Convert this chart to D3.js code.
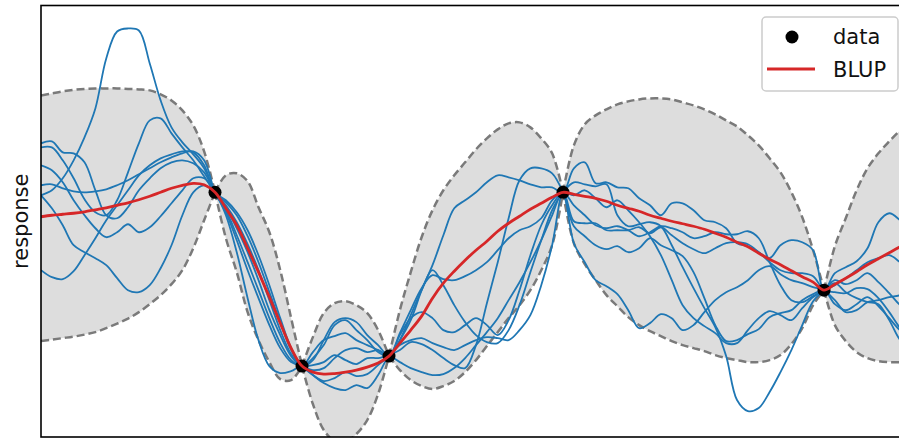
<!DOCTYPE html>
<html><head><meta charset="utf-8">
<script src="https://cdn.jsdelivr.net/npm/d3@7"></script>
<style>
html,body{margin:0;padding:0;background:#fff;}
svg{display:block;font-family:"DejaVu Sans",sans-serif;}
</style></head>
<body><svg id="chart" width="899" height="438"></svg>
<script>
// ---------- data ----------
const xGrid = d3.range(81).map(i => i / 8);   // sampling grid 0 .. 10
const dataX = [2, 3, 4, 6, 9];
const dataY = [0.29, -1.45, -1.35, 0.29, -0.69];

const blup = [0.045,0.06,0.07,0.08,0.095,0.115,0.135,0.16,0.185,0.215,0.25,0.29,0.33,0.36,0.38,0.365,0.29,
  0.13,-0.04,-0.27,-0.51,-0.76,-1.02,-1.27,-1.45,
  -1.51,-1.53,-1.525,-1.51,-1.49,-1.46,-1.42,-1.35,
  -1.22,-1.09,-0.95,-0.77,-0.62,-0.50,-0.39,-0.29,-0.20,-0.10,-0.02,0.05,0.12,0.18,0.24,0.29,
  0.27,0.25,0.23,0.20,0.16,0.13,0.10,0.06,0.03,0.00,-0.025,-0.05,-0.08,-0.12,-0.16,-0.21,-0.255,-0.32,-0.38,-0.435,-0.495,-0.555,-0.61,-0.69,
  -0.63,-0.57,-0.505,-0.435,-0.375,-0.315,-0.255,-0.20];

const upper = [1.26,1.28,1.30,1.315,1.325,1.33,1.33,1.33,1.325,1.32,1.31,1.27,1.21,1.11,0.96,0.70,0.29,
  0.46,0.48,0.40,0.14,-0.11,-0.49,-0.97,-1.45,
  -1.16,-0.92,-0.82,-0.80,-0.84,-0.92,-1.09,-1.35,
  -0.89,-0.51,-0.16,0.11,0.31,0.46,0.59,0.72,0.83,0.92,0.98,0.99,0.94,0.83,0.68,0.29,
  0.76,0.97,1.06,1.12,1.17,1.20,1.22,1.23,1.23,1.22,1.19,1.16,1.12,1.07,1.01,0.95,0.86,0.76,0.63,0.49,0.29,0.04,-0.29,-0.69,
  -0.25,0.03,0.31,0.53,0.68,0.80,0.91,1.00];

const lower = [-1.20,-1.185,-1.17,-1.155,-1.135,-1.11,-1.07,-1.025,-0.975,-0.91,-0.83,-0.74,-0.63,-0.49,-0.27,0.01,0.29,
  -0.17,-0.51,-0.91,-1.19,-1.41,-1.58,-1.59,-1.45,
  -1.83,-2.09,-2.20,-2.21,-2.13,-1.99,-1.73,-1.35,
  -1.49,-1.59,-1.65,-1.68,-1.65,-1.60,-1.51,-1.39,-1.25,-1.11,-0.97,-0.84,-0.69,-0.49,-0.24,0.29,
  -0.22,-0.43,-0.59,-0.74,-0.85,-0.96,-1.04,-1.10,-1.15,-1.20,-1.24,-1.27,-1.30,-1.34,-1.37,-1.39,-1.41,-1.41,-1.39,-1.34,-1.23,-1.07,-0.84,-0.69,
  -1.04,-1.20,-1.31,-1.37,-1.40,-1.41,-1.41,-1.40];

const sample1 = [0.26,0.31,0.43,0.61,0.84,1.13,1.63,1.90,1.93,1.91,1.58,1.21,0.94,0.79,0.67,0.53,0.29,
  0.11,-0.14,-0.41,-0.69,-0.97,-1.22,-1.39,-1.45,
  -1.31,-1.19,-1.15,-1.12,-1.19,-1.24,-1.29,-1.35,
  -1.19,-0.99,-0.69,-0.44,-0.14,0.13,0.21,0.29,0.39,0.46,0.44,0.41,0.37,0.34,0.34,0.29,
  0.53,0.59,0.38,0.39,0.34,0.33,0.23,0.16,0.06,0.18,0.18,0.11,0.01,-0.01,-0.07,-0.22,-0.25,-0.31,-0.37,-0.24,-0.19,-0.21,-0.29,-0.69,
  -0.52,-0.46,-0.40,-0.27,-0.01,0.08,0.01,-0.09];
const sample2 = [0.74,0.74,0.61,0.43,0.22,0.09,0.06,0.21,0.49,0.78,1.01,1.03,0.88,0.74,0.61,0.45,0.29,
  0.19,0.06,-0.15,-0.41,-0.71,-1.01,-1.29,-1.45,
  -1.39,-1.19,-1.01,-0.97,-1.01,-1.14,-1.24,-1.35,
  -1.19,-0.94,-0.69,-0.49,-0.64,-0.84,-1.01,-1.14,-1.21,-1.22,-1.09,-0.84,-0.51,-0.19,0.11,0.29,
  0.39,0.37,0.35,0.37,0.06,-0.05,-0.03,-0.01,-0.05,-0.24,-0.46,-0.67,-0.87,-1.06,-1.35,-1.79,-1.90,-1.87,-1.71,-1.51,-1.29,-1.04,-0.80,-0.69,
  -0.59,-0.63,-0.59,-0.52,-0.61,-0.72,-0.84,-0.91];
const sample3 = [0.26,0.13,-0.04,-0.24,-0.31,-0.37,-0.44,-0.57,-0.69,-0.71,-0.64,-0.47,-0.24,0.06,0.29,0.36,0.29,
  0.13,-0.07,-0.31,-0.59,-0.89,-1.14,-1.35,-1.45,
  -1.37,-1.24,-1.04,-0.99,-1.09,-1.19,-1.31,-1.35,
  -1.12,-0.89,-0.67,-0.54,-0.58,-0.59,-0.55,-0.49,-0.41,-0.29,-0.17,-0.09,-0.05,0.03,0.21,0.29,
  0.00,-0.02,-0.02,-0.09,-0.09,-0.09,-0.06,-0.12,-0.06,-0.14,-0.22,-0.28,-0.32,-0.27,-0.22,-0.21,-0.23,-0.31,-0.41,-0.49,-0.52,-0.52,-0.55,-0.69,
  -0.71,-0.72,-0.67,-0.68,-0.77,-0.91,-1.07,-1.19];
const sample4 = [-0.49,-0.56,-0.58,-0.50,-0.34,-0.17,0.01,0.16,0.31,0.46,0.56,0.63,0.67,0.70,0.69,0.56,0.29,
  0.21,0.09,-0.09,-0.34,-0.64,-0.97,-1.27,-1.45,
  -1.54,-1.62,-1.67,-1.69,-1.64,-1.67,-1.54,-1.35,
  -1.29,-1.21,-1.23,-1.29,-1.37,-1.44,-1.47,-1.24,-0.82,-0.41,0.03,0.41,0.53,0.53,0.48,0.29,
  -0.05,-0.15,-0.24,-0.28,-0.25,-0.31,-0.27,-0.17,-0.24,-0.29,-0.35,-0.51,-0.77,-1.04,-1.20,-1.19,-1.13,-1.08,-0.96,-0.92,-0.89,-0.79,-0.73,-0.69,
  -0.83,-0.89,-0.83,-0.76,-0.85,-0.97,-1.09,-1.14];
const sample5 = [0.56,0.51,0.39,0.21,0.06,-0.07,-0.16,-0.11,-0.03,-0.11,-0.06,0.05,0.18,0.31,0.43,0.43,0.29,
  0.06,-0.31,-0.77,-1.19,-1.45,-1.52,-1.50,-1.45,
  -1.54,-1.60,-1.57,-1.51,-1.55,-1.53,-1.44,-1.35,
  -1.24,-1.19,-1.17,-1.22,-1.26,-1.29,-1.24,-1.19,-1.16,-1.17,-1.19,-1.09,-0.94,-0.64,-0.24,0.29,
  -0.22,-0.41,-0.59,-0.65,-0.73,-0.89,-1.07,-1.02,-0.93,-0.97,-1.09,-1.04,-0.91,-0.79,-0.71,-0.66,-0.59,-0.49,-0.45,-0.53,-0.59,-0.62,-0.66,-0.69,
  -0.79,-0.91,-0.89,-0.81,-0.79,-0.76,-0.74,-0.69];
const sample6 = [0.78,0.80,0.69,0.68,0.59,0.31,0.06,0.03,0.14,0.31,0.43,0.53,0.59,0.61,0.58,0.49,0.29,
  0.16,-0.01,-0.23,-0.49,-0.79,-1.09,-1.33,-1.45,
  -1.44,-1.41,-1.34,-1.39,-1.43,-1.37,-1.37,-1.35,
  -1.41,-1.47,-1.51,-1.54,-1.53,-1.47,-1.37,-1.24,-1.11,-0.97,-0.79,-0.61,-0.41,-0.19,0.06,0.29,
  0.26,0.31,0.23,0.14,0.21,0.11,-0.01,-0.15,-0.34,-0.59,-0.84,-0.97,-1.05,-1.12,-1.22,-1.22,-1.09,-0.97,-0.90,-0.94,-0.99,-0.87,-0.76,-0.69,
  -0.62,-0.71,-0.77,-0.81,-0.83,-0.99,-1.19,-1.29];
const sample7 = [0.36,0.37,0.33,0.30,0.29,0.30,0.32,0.36,0.41,0.47,0.53,0.59,0.64,0.68,0.70,0.61,0.29,
  0.09,-0.19,-0.49,-0.77,-1.04,-1.27,-1.41,-1.45,
  -1.49,-1.47,-1.37,-1.29,-1.27,-1.31,-1.29,-1.35,
  -1.14,-0.97,-0.91,-0.97,-1.09,-1.11,-1.04,-0.97,-1.04,-1.14,-0.99,-0.69,-0.34,-0.04,0.16,0.29,
  0.16,0.06,-0.04,-0.07,-0.05,-0.09,-0.15,-0.11,-0.05,-0.07,-0.11,-0.17,-0.15,-0.11,-0.13,-0.13,-0.10,-0.17,-0.41,-0.64,-0.79,-0.81,-0.75,-0.69,
  -0.64,-0.57,-0.49,-0.41,-0.37,-0.34,-0.41,-0.49];
const samples = [sample1, sample2, sample3, sample4, sample5, sample6, sample7];

const legendLabels = ["data", "BLUP"];
const yLabel = "response";

// ---------- layout ----------
const svg = d3.select("#chart");
const plot = {left: 41, right: 911, top: 5.5, bottom: 437};
const x = d3.scaleLinear().domain([0, 10]).range([plot.left, plot.right]);
const y = d3.scaleLinear().domain([-2.16, 2.16]).range([plot.bottom, plot.top]);

svg.append("defs").append("clipPath").attr("id", "clip")
  .append("rect").attr("x", plot.left).attr("y", plot.top)
  .attr("width", plot.right - plot.left).attr("height", plot.bottom - plot.top);

const g = svg.append("g").attr("clip-path", "url(#clip)");

// band split at the data points so that the pinches are sharp
const cuts = [0, ...dataX.map(v => xGrid.indexOf(v)), xGrid.length - 1];
const segs = [];
for (let i = 0; i < cuts.length - 1; i++) {
  if (cuts[i + 1] > cuts[i]) segs.push(d3.range(cuts[i], cuts[i + 1] + 1));
}
const area = d3.area().x(i => x(xGrid[i])).y0(i => y(lower[i])).y1(i => y(upper[i]))
  .curve(d3.curveCatmullRom);
const lineU = d3.line().x(i => x(xGrid[i])).y(i => y(upper[i])).curve(d3.curveCatmullRom);
const lineL = d3.line().x(i => x(xGrid[i])).y(i => y(lower[i])).curve(d3.curveCatmullRom);

g.selectAll("path.band").data(segs).join("path").attr("class", "band")
  .attr("d", area).attr("fill", "#dddddd").attr("stroke", "none");
segs.forEach(s => {
  [lineU, lineL].forEach(l => {
    g.append("path").attr("d", l(s)).attr("fill", "none")
      .attr("stroke", "#7a7a7a").attr("stroke-width", 2.5)
      .attr("stroke-dasharray", "8,4");
  });
});

const sLine = d3.line().x((d, i) => x(xGrid[i])).y(d => y(d)).curve(d3.curveCatmullRom);
g.selectAll("path.sample").data(samples).join("path").attr("class", "sample")
  .attr("d", sLine).attr("fill", "none").attr("stroke", "#1f77b4").attr("stroke-width", 1.8);

g.selectAll("circle.pt").data(dataX).join("circle").attr("class", "pt")
  .attr("cx", d => x(d)).attr("cy", (d, i) => y(dataY[i])).attr("r", 6.5).attr("fill", "#000");

g.append("path").attr("d", sLine(blup)).attr("fill", "none")
  .attr("stroke", "#d62728").attr("stroke-width", 2.8);

// spines
svg.append("rect").attr("x", plot.left).attr("y", plot.top)
  .attr("width", plot.right - plot.left).attr("height", plot.bottom - plot.top)
  .attr("fill", "none").attr("stroke", "#000").attr("stroke-width", 1.6);

// y label
svg.append("text").attr("transform", `translate(28,${(plot.top + plot.bottom) / 2}) rotate(-90)`)
  .attr("text-anchor", "middle").attr("font-size", 21).attr("fill", "#111").text(yLabel);

// legend
const lg = svg.append("g");
lg.append("rect").attr("x", 762).attr("y", 17).attr("width", 136).attr("height", 74)
  .attr("rx", 4).attr("fill", "#fff").attr("fill-opacity", 0.85)
  .attr("stroke", "#cccccc").attr("stroke-width", 1.5);
lg.append("circle").attr("cx", 792).attr("cy", 37).attr("r", 6.5).attr("fill", "#000");
lg.append("line").attr("x1", 767).attr("x2", 815).attr("y1", 69).attr("y2", 69)
  .attr("stroke", "#d62728").attr("stroke-width", 2.8);
lg.selectAll("text").data(legendLabels).join("text")
  .attr("x", 833).attr("y", (d, i) => 44 + i * 33).attr("font-size", 21).attr("fill", "#111")
  .text(d => d);
</script></body></html>
